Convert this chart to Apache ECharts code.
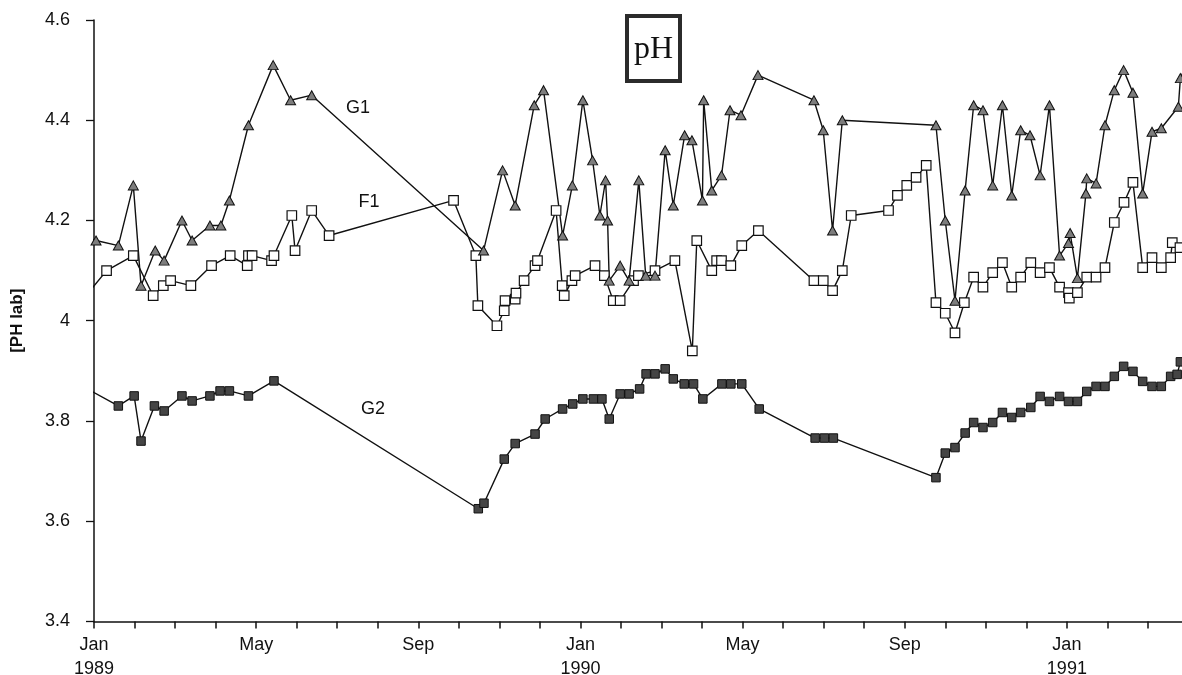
<!DOCTYPE html>
<html>
<head>
<meta charset="utf-8">
<script src="https://cdn.jsdelivr.net/npm/echarts@6/dist/echarts.min.js"></script>
<style>
html,body{margin:0;padding:0;background:#fff;}
#chart{width:1182px;height:675px;}
</style>
</head>
<body>
<div id="chart"></div>
<script>
// x values: months elapsed since 1 Jan 1989 (monthly axis, evenly spaced months)
const monthNames = ['Jan','Feb','Mar','Apr','May','Jun','Jul','Aug','Sep','Oct','Nov','Dec'];
const startYear = 1989;
const yTicks = [3.4, 3.6, 3.8, 4.0, 4.2, 4.4, 4.6];

const g1Month = [-0.3,0.05,0.6,0.97,1.16,1.51,1.73,2.17,2.42,2.86,3.13,3.34,3.81,4.42,4.85,5.37,
  9.61,10.08,10.39,10.86,11.09,11.56,11.8,12.06,12.3,12.48,12.62,12.67,12.71,12.98,13.2,13.44,13.61,13.84,
  14.09,14.29,14.57,14.75,15.01,15.04,15.24,15.48,15.69,15.96,16.38,17.76,17.99,18.22,18.46,
  20.77,21.0,21.24,21.49,21.7,21.93,22.17,22.41,22.64,22.86,23.09,23.34,23.57,23.82,24.04,24.08,24.26,
  24.47,24.49,24.72,24.94,25.17,25.4,25.63,25.87,26.1,26.33,26.75,26.8,27.0];
const g1Value = [4.17,4.16,4.15,4.27,4.07,4.14,4.12,4.20,4.16,4.19,4.19,4.24,4.39,4.51,4.44,4.45,
  4.14,4.30,4.23,4.43,4.46,4.17,4.27,4.44,4.32,4.21,4.28,4.20,4.08,4.11,4.08,4.28,4.09,4.09,
  4.34,4.23,4.37,4.36,4.24,4.44,4.26,4.29,4.42,4.41,4.49,4.44,4.38,4.18,4.40,
  4.39,4.20,4.04,4.26,4.43,4.42,4.27,4.43,4.25,4.38,4.37,4.29,4.43,4.13,4.155,4.175,4.085,
  4.254,4.284,4.274,4.39,4.46,4.50,4.455,4.254,4.377,4.384,4.427,4.484,4.52];

const f1Month = [-0.3,0.31,0.97,1.46,1.71,1.89,2.39,2.9,3.36,3.78,3.81,3.9,4.38,4.44,4.88,4.96,5.37,5.8,
  8.87,9.42,9.47,9.94,10.12,10.14,10.39,10.41,10.61,10.88,10.94,11.4,11.55,11.6,11.79,11.87,
  12.36,12.59,12.81,12.98,13.31,13.43,13.84,14.33,14.76,14.87,15.24,15.36,15.48,15.71,15.98,16.39,
  17.76,17.99,18.22,18.46,18.68,19.6,19.82,20.05,20.28,20.53,20.77,21.0,21.24,21.47,21.7,21.93,
  22.17,22.41,22.64,22.86,23.11,23.34,23.57,23.82,24.04,24.06,24.26,24.49,24.72,24.94,25.17,25.41,
  25.63,25.87,26.1,26.33,26.56,26.6,26.79];
const f1Value = [4.04,4.10,4.13,4.05,4.07,4.08,4.07,4.11,4.13,4.11,4.13,4.13,4.12,4.13,4.21,4.14,4.22,4.17,
  4.24,4.13,4.03,3.99,4.02,4.04,4.043,4.055,4.08,4.11,4.12,4.22,4.07,4.05,4.08,4.09,
  4.11,4.09,4.04,4.04,4.08,4.09,4.10,4.12,3.94,4.16,4.10,4.12,4.12,4.11,4.15,4.18,
  4.08,4.08,4.06,4.10,4.21,4.22,4.25,4.27,4.286,4.31,4.036,4.015,3.976,4.036,4.087,4.067,
  4.096,4.116,4.067,4.087,4.116,4.096,4.106,4.067,4.056,4.045,4.056,4.087,4.087,4.106,4.196,4.236,
  4.276,4.106,4.126,4.106,4.126,4.156,4.146];

const g2Month = [-0.3,0.6,0.99,1.16,1.49,1.73,2.17,2.42,2.86,3.11,3.34,3.81,4.44,
  9.48,9.62,10.12,10.39,10.88,11.13,11.56,11.81,12.06,12.32,12.53,12.71,12.98,13.2,13.46,13.62,13.84,
  14.09,14.29,14.56,14.79,15.02,15.49,15.71,15.98,16.41,17.79,18.02,18.24,
  20.77,21.0,21.24,21.49,21.7,21.93,22.17,22.41,22.64,22.86,23.11,23.34,23.57,23.82,24.04,24.26,
  24.49,24.72,24.94,25.17,25.4,25.63,25.87,26.1,26.33,26.56,26.72,26.8];
const g2Value = [3.87,3.83,3.85,3.76,3.83,3.82,3.85,3.84,3.85,3.86,3.86,3.85,3.88,
  3.625,3.636,3.724,3.755,3.774,3.804,3.824,3.834,3.844,3.844,3.844,3.804,3.854,3.854,3.864,3.894,3.894,
  3.904,3.884,3.874,3.874,3.844,3.874,3.874,3.874,3.824,3.766,3.766,3.766,
  3.687,3.736,3.747,3.776,3.797,3.787,3.797,3.817,3.807,3.817,3.827,3.849,3.839,3.849,3.839,3.839,
  3.859,3.869,3.869,3.889,3.909,3.899,3.879,3.869,3.869,3.889,3.893,3.918];

function pairs(ms, vs){ return ms.map((m,i)=>[m, vs[i]]); }

const chart = echarts.init(document.getElementById('chart'), null, {renderer:'canvas'});
const font = 'Liberation Sans, Arial, sans-serif';

chart.setOption({
  animation:false,
  backgroundColor:'#ffffff',
  grid:{left:94, right:0, top:20, bottom:53.5, containLabel:false, outerBoundsMode:'none'},
  xAxis:{
    type:'value', min:0, max:26.84, interval:1,
    axisLine:{show:true, lineStyle:{color:'#111', width:1.5}},
    axisTick:{show:true, inside:false, length:7, lineStyle:{color:'#111', width:1.5}},
    splitLine:{show:false},
    axisLabel:{
      showMaxLabel:false, margin:12, color:'#111', fontFamily:font, fontSize:18, lineHeight:24,
      formatter:function(v){
        const r = Math.round(v);
        if (Math.abs(v-r) > 1e-6 || r % 4 !== 0) return '';
        const mi = r % 12, yr = startYear + Math.floor(r/12);
        return mi === 0 ? monthNames[mi] + '\n' + yr : monthNames[mi];
      }
    }
  },
  yAxis:{
    type:'value', min:yTicks[0], max:yTicks[yTicks.length-1], interval:0.2,
    name:'[PH lab]', nameLocation:'middle', nameGap:68, nameRotate:90,
    nameTextStyle:{fontFamily:font, fontSize:17, fontWeight:'bold', color:'#111'},
    axisLine:{show:true, lineStyle:{color:'#111', width:1.5}},
    axisTick:{show:true, inside:false, length:8, lineStyle:{color:'#111', width:1.3}},
    splitLine:{show:false},
    axisLabel:{margin:24, color:'#111', fontFamily:font, fontSize:18,
      formatter:function(v){ return String(Math.round(v*10)/10); }}
  },
  series:[
    {
      name:'G2', type:'line', data:pairs(g2Month,g2Value), clip:true,
      symbol:'rect', symbolSize:8.5, showAllSymbol:true,
      lineStyle:{color:'#111', width:1.4},
      itemStyle:{color:'#454545', borderColor:'#111', borderWidth:1}
    },
    {
      name:'F1', type:'line', data:pairs(f1Month,f1Value), clip:true,
      symbol:'rect', symbolSize:9.5, showAllSymbol:true,
      lineStyle:{color:'#111', width:1.4},
      itemStyle:{color:'#ffffff', borderColor:'#111', borderWidth:1.2}
    },
    {
      name:'G1', type:'line', data:pairs(g1Month,g1Value), clip:true,
      symbol:'triangle', symbolSize:[10,9], showAllSymbol:true,
      lineStyle:{color:'#111', width:1.4},
      itemStyle:{color:'#7d7d7d', borderColor:'#111', borderWidth:1}
    }
  ],
  graphic:[
    {type:'rect', shape:{x:627, y:16, width:53, height:65}, z:10,
      style:{fill:'#fff', stroke:'#2b2b2b', lineWidth:4}},
    {type:'text', x:653.5, y:50, z:11,
      style:{text:'pH', font:'32px "Liberation Serif", "Times New Roman", serif', fill:'#111',
        textAlign:'center', textVerticalAlign:'middle'}},
    {type:'text', x:358, y:108, z:11,
      style:{text:'G1', font:'18px "Liberation Sans", Arial, sans-serif', fill:'#111',
        textAlign:'center', textVerticalAlign:'middle'}},
    {type:'text', x:369, y:202, z:11,
      style:{text:'F1', font:'18px "Liberation Sans", Arial, sans-serif', fill:'#111',
        textAlign:'center', textVerticalAlign:'middle'}},
    {type:'text', x:373, y:409, z:11,
      style:{text:'G2', font:'18px "Liberation Sans", Arial, sans-serif', fill:'#111',
        textAlign:'center', textVerticalAlign:'middle'}}
  ]
});
</script>
</body>
</html>
